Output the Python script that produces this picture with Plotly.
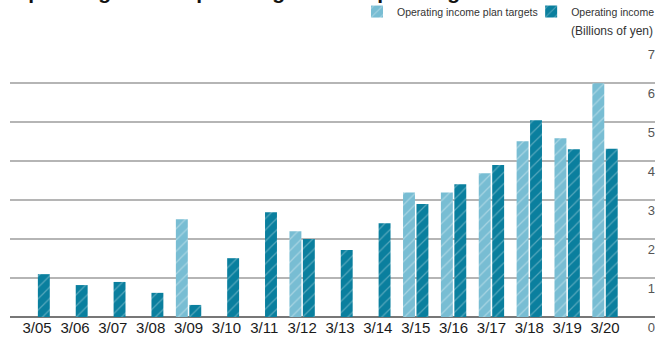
import plotly.graph_objects as go

categories = ["3/05", "3/06", "3/07", "3/08", "3/09", "3/10", "3/11", "3/12",
              "3/13", "3/14", "3/15", "3/16", "3/17", "3/18", "3/19", "3/20"]
plan_targets = [None, None, None, None, 2.51, None, None, 2.2,
                None, None, 3.2, 3.2, 3.69, 4.51, 4.59, 6.0]
operating_income = [1.1, 0.82, 0.9, 0.62, 0.31, 1.51, 2.69, 2.0,
                    1.72, 2.41, 2.9, 3.41, 3.9, 5.05, 4.31, 4.32]
y_ticks = [0, 1, 2, 3, 4, 5, 6, 7]

idx = list(range(len(categories)))

fig = go.Figure()
fig.add_trace(go.Bar(
    x=idx, y=plan_targets, name="Operating income plan targets",
    width=0.315, offset=-0.335,
    marker=dict(color="#78bdd3", line=dict(width=0),
                pattern=dict(shape="/", fgcolor="#ffffff", fgopacity=0.35,
                             size=8, solidity=0.15)),
    legend="legend",
))
fig.add_trace(go.Bar(
    x=idx, y=operating_income, name="Operating income",
    width=0.315, offset=0.02,
    marker=dict(color="#0a7f9e", line=dict(width=0),
                pattern=dict(shape="/", fgcolor="#ffffff", fgopacity=0.3,
                             size=8, solidity=0.15)),
    legend="legend2",
))

fig.update_layout(
    width=669, height=338,
    margin=dict(l=10, r=14, t=44, b=21, autoexpand=False),
    paper_bgcolor="white", plot_bgcolor="white",
    barmode="overlay",
    font=dict(family="Liberation Sans, Arial, sans-serif", color="#222"),
    showlegend=True,
    legend=dict(orientation="h", x=0.538, xanchor="left", y=1.172, yanchor="top",
                bgcolor="rgba(0,0,0,0)", font=dict(size=10.5, color="#333"),
                traceorder="normal"),
    legend2=dict(orientation="h", x=0.808, xanchor="left", y=1.172, yanchor="top",
                 bgcolor="rgba(0,0,0,0)", font=dict(size=10.5, color="#333")),
    xaxis=dict(
        range=[-0.716, 16.32], tickmode="array", tickvals=idx, ticktext=categories,
        showgrid=False, zeroline=False, showline=False, ticks="",
        tickfont=dict(size=15, color="#1a1a1a"), fixedrange=True, automargin=False,
    ),
    yaxis=dict(
        range=[0, 7.01], side="left", anchor="free", position=1.0,
        tickmode="array", tickvals=y_ticks,
        ticklabelposition="outside", ticklabelshift=10, ticklabelstandoff=0,
        tickfont=dict(size=13, color="#555"),
        showgrid=True, gridcolor="#b5b5b5", gridwidth=1.5,
        zeroline=True, zerolinecolor="#777", zerolinewidth=2,
        showline=False, ticks="", fixedrange=True, automargin=False,
    ),
    annotations=[
        dict(text="(Billions of yen)", xref="paper", yref="paper", x=1.0, y=(317 - 31) / 273,
             xanchor="right", yanchor="middle", showarrow=False,
             font=dict(size=12, color="#333")),
        dict(text="<b>Operating income plan targets and operating income</b>", xref="paper", yref="paper",
             x=0.0, y=(317 - 5) / 273, xanchor="left", yanchor="bottom", showarrow=False,
             font=dict(size=21, color="#111")),
    ],
)

fig.write_html("out.html")
